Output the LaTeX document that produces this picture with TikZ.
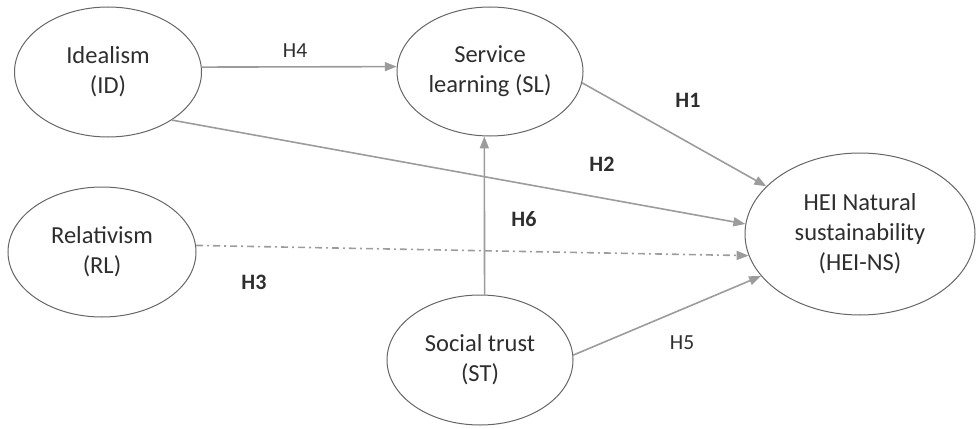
\documentclass[tikz,border=0pt]{standalone}
\usepackage{fontspec}
\setmainfont{Carlito}
\usetikzlibrary{shapes.geometric,arrows.meta}
\definecolor{edge}{HTML}{666666}
\definecolor{conn}{HTML}{9C9C9C}
\definecolor{txt}{HTML}{2E2E2E}
\begin{document}
\begin{tikzpicture}[x=1pt,y=-1pt,
  construct/.style={ellipse,draw=edge,line width=1pt,inner sep=0pt,align=center,
    text=txt,font=\fontsize{24.5}{30}\selectfont},
  link/.style={draw=conn,line width=1.6pt,-{Triangle[length=12pt,width=9pt]}},
  hyp/.style={text=txt,font=\fontsize{21.5}{24}\selectfont},
  hypb/.style={text=txt,font=\fontsize{22}{24}\selectfont\bfseries}]
\useasboundingbox (0,0) rectangle (976,428);
\node[construct,minimum width=187pt,minimum height=130pt] (ID) at (108,72) {Idealism\\(ID)};
\node[construct,minimum width=186pt,minimum height=129pt] (SL) at (490,71.5) {Service\\learning (SL)};
\node[construct,minimum width=230pt,minimum height=162pt] (NS) at (860,234) {HEI Natural\\sustainability\\(HEI-NS)};
\node[construct,minimum width=188pt,minimum height=130pt] (RL) at (102,252) {Relativism\\(RL)};
\node[construct,minimum width=186pt,minimum height=130pt] (ST) at (480,360) {Social trust\\(ST)};
\draw[link] (ID.3) -- (SL.177);
\draw[link] (SL.-7) -- (NS.153);
\draw[link] (ID.-37.6) -- (NS.175.6);
\draw[link,dash pattern=on 7pt off 4pt on 2pt off 4pt] (RL.4.4) -- (NS.-169.2);
\draw[link] (ST.86) -- (SL.-95);
\draw[link] (ST.3.6) -- (NS.-157.6);
\node[hyp] (H4) at (295,51) {H4};
\node[hypb] (H1) at (688,100) {H1};
\node[hypb] (H2) at (602,164) {H2};
\node[hypb] (H6) at (524,219) {H6};
\node[hypb] (H3) at (254,282) {H3};
\node[hyp] (H5) at (682,343) {H5};
\end{tikzpicture}
\end{document}
